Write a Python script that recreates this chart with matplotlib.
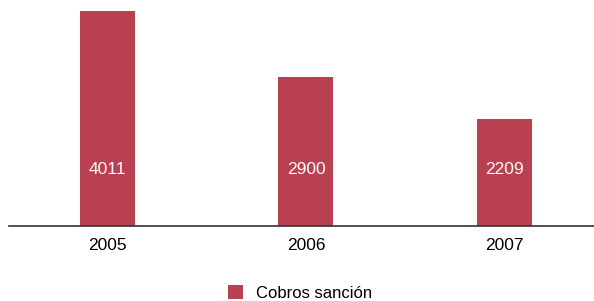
import matplotlib
matplotlib.use("Agg")
import matplotlib.pyplot as plt
from matplotlib import font_manager

years = ["2005", "2006", "2007"]
cobros = [4011, 2900, 2209]
series_name = "Cobros sanción"

names = {f.name for f in font_manager.fontManager.ttflist}
fam = ["Liberation Sans Narrow", "DejaVu Sans"] if "Liberation Sans Narrow" in names else ["Liberation Sans", "DejaVu Sans"]
plt.rcParams['font.family'] = fam

color = "#B94050"
fig = plt.figure(figsize=(5.94, 3.01), dpi=100)
ax = fig.add_axes([9/594, 75/301, 1 - 9/594, 226/301])
x = list(range(len(years)))
bars = ax.bar(x, cobros, width=0.277, color=color, label=series_name, zorder=2)
ax.set_xlim(-0.496, 2.451)
ymin, ymax = 420, 4193
ax.set_ylim(ymin, ymax)
label_y = ymin + (226 - 169) / 226 * (ymax - ymin)
for xi, v in zip(x, cobros):
    ax.text(xi, label_y, str(v), ha="center", va="center", color="white", fontsize=12.5)

for s in ["top", "right", "left"]:
    ax.spines[s].set_visible(False)
ax.spines["bottom"].set_color("#333333")
ax.spines["bottom"].set_linewidth(1.2)
ax.set_yticks([])
ax.set_xticks(x)
ax.set_xticklabels(years, fontsize=12.5)
ax.tick_params(axis="x", length=0, pad=9)

fig.legend(handles=[bars], labels=[series_name], loc="center", bbox_to_anchor=(0.505, 0.027),
           frameon=False, fontsize=12, handlelength=0.9, handleheight=0.9, handletextpad=0.8)
fig.savefig("out.png", dpi=100)
